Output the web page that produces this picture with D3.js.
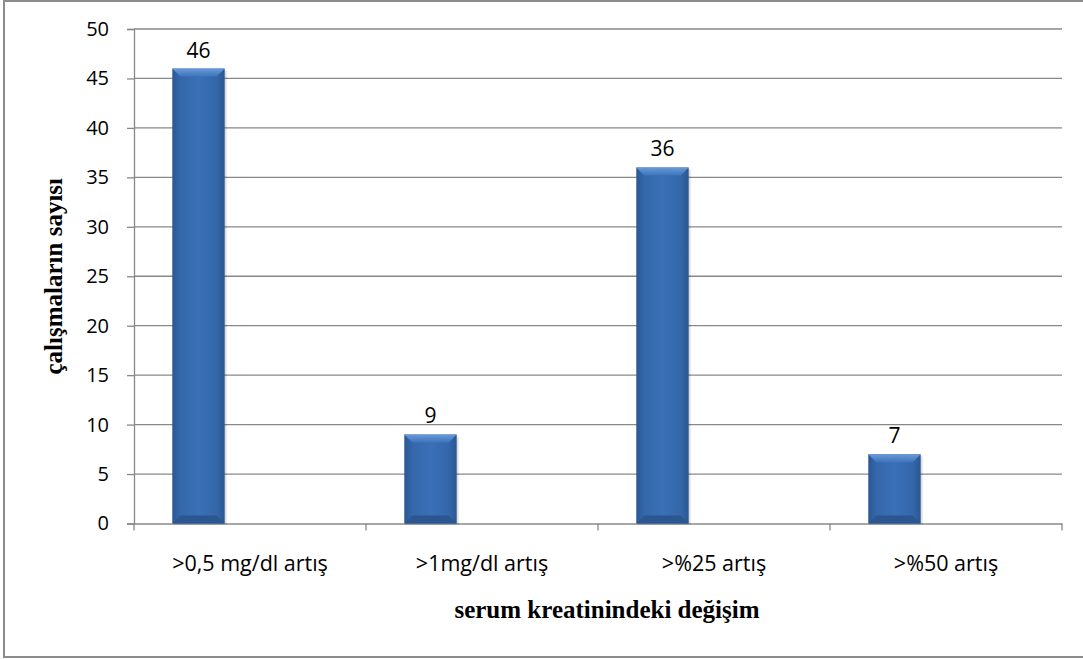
<!DOCTYPE html>
<html>
<head>
<meta charset="utf-8">
<script src="https://cdn.jsdelivr.net/npm/d3@7"></script>
<style>
  body { margin: 0; background: #fff; }
  svg text { fill: #000; }
</style>
</head>
<body>
<div id="chart"></div>
<script>
// data
var categories = [">0,5 mg/dl artış", ">1mg/dl artış", ">%25 artış", ">%50 artış"];
var values = [46, 9, 36, 7];
var yTicks = [0, 5, 10, 15, 20, 25, 30, 35, 40, 45, 50];
var yTitle = "çalışmaların sayısı";
var xTitle = "serum kreatinindeki değişim";

var W = 1083, H = 659;
var plotLeft = 134, plotRight = 1062, plotTop = 29, plotBottom = 523.5;

var svg = d3.select("#chart").append("svg")
    .attr("width", W)
    .attr("height", H);

var defs = svg.append("defs");
var side = defs.append("linearGradient").attr("id", "barSide")
    .attr("x1", "0").attr("x2", "1").attr("y1", "0").attr("y2", "0");
side.append("stop").attr("offset", "0").attr("stop-color", "#2a5793");
side.append("stop").attr("offset", "0.15").attr("stop-color", "#3467aa");
side.append("stop").attr("offset", "0.5").attr("stop-color", "#3a70b6");
side.append("stop").attr("offset", "0.85").attr("stop-color", "#3467aa");
side.append("stop").attr("offset", "1").attr("stop-color", "#2a5793");

var topG = defs.append("linearGradient").attr("id", "barTop")
    .attr("x1", "0").attr("x2", "0").attr("y1", "0").attr("y2", "1");
topG.append("stop").attr("offset", "0").attr("stop-color", "#6a9ad8");
topG.append("stop").attr("offset", "1").attr("stop-color", "#3d74bb");

// outer frame
svg.append("rect")
    .attr("x", 4).attr("y", 1)
    .attr("width", W + 10).attr("height", 656)
    .attr("fill", "none")
    .attr("stroke", "#8c8c8c")
    .attr("stroke-width", 2);

var x = d3.scaleBand().domain(categories).range([plotLeft, plotRight]);
var y = d3.scaleLinear().domain([0, 50]).range([plotBottom, plotTop]);

// gridlines
svg.append("g")
    .selectAll("line")
    .data(yTicks.slice(1))
    .join("line")
    .attr("x1", plotLeft).attr("x2", plotRight)
    .attr("y1", function(d) { return y(d); })
    .attr("y2", function(d) { return y(d); })
    .attr("stroke", "#888")
    .attr("stroke-width", 1.3);

// y axis
var yAxis = svg.append("g")
    .attr("transform", "translate(" + plotLeft + ",0)")
    .call(d3.axisLeft(y).tickValues(yTicks).tickSize(7).tickPadding(18));
yAxis.select(".domain").attr("stroke", "#888").attr("stroke-width", 1.3);
yAxis.selectAll(".tick line").attr("stroke", "#888").attr("stroke-width", 1.3);
yAxis.selectAll(".tick text")
    .attr("font-family", "'Open Sans', sans-serif")
    .attr("font-size", "20px")
    .attr("fill", "#000");

// x axis
var xAxis = svg.append("g")
    .attr("transform", "translate(0," + plotBottom + ")")
    .call(d3.axisBottom(x).tickSize(0).tickPadding(32));
xAxis.select(".domain").attr("stroke", "#888").attr("stroke-width", 1.3);
xAxis.selectAll(".tick text")
    .attr("font-family", "'Open Sans', sans-serif")
    .attr("font-size", "21.5px")
    .attr("fill", "#000");
// category boundary ticks
svg.append("g")
    .selectAll("line")
    .data(categories.concat(["end"]))
    .join("line")
    .attr("x1", function(d, i) { return plotLeft + i * x.bandwidth(); })
    .attr("x2", function(d, i) { return plotLeft + i * x.bandwidth(); })
    .attr("y1", plotBottom).attr("y2", plotBottom + 7)
    .attr("stroke", "#888")
    .attr("stroke-width", 1.3);

// bars
var bw = x.bandwidth() * 0.226;
var off = x.bandwidth() * 0.165;
var bev = 8;
var bars = svg.append("g").selectAll("g")
    .data(values)
    .join("g")
    .attr("transform", function(d, i) { return "translate(" + (x(categories[i]) + off) + ",0)"; });

// soft shadow
bars.append("rect")
    .attr("x", 2).attr("y", function(d) { return y(d) + 2; })
    .attr("width", bw).attr("height", function(d) { return plotBottom - y(d) - 1; })
    .attr("fill", "#000").attr("opacity", 0.12);

bars.append("rect")
    .attr("x", 0).attr("y", function(d) { return y(d); })
    .attr("width", bw).attr("height", function(d) { return plotBottom - y(d); })
    .attr("fill", "url(#barSide)");

bars.append("path")
    .attr("d", function(d) {
        var t = y(d);
        return "M0," + t + "L" + bw + "," + t + "L" + (bw - bev) + "," + (t + bev) + "L" + bev + "," + (t + bev) + "Z";
    })
    .attr("fill", "url(#barTop)");

bars.append("path")
    .attr("d", function(d) {
        var b = plotBottom;
        return "M0," + b + "L" + bw + "," + b + "L" + (bw - bev) + "," + (b - bev) + "L" + bev + "," + (b - bev) + "Z";
    })
    .attr("fill", "#2b5690");

// value labels
bars.append("text")
    .attr("x", bw / 2)
    .attr("y", function(d) { return y(d) - 11; })
    .attr("text-anchor", "middle")
    .attr("font-family", "'Open Sans', sans-serif")
    .attr("font-size", "21px")
    .text(function(d) { return d; });

// axis titles
svg.append("text")
    .attr("transform", "translate(62," + ((plotTop + plotBottom) / 2) + ") rotate(-90)")
    .attr("text-anchor", "middle")
    .attr("font-family", "'Liberation Serif', 'Times New Roman', serif")
    .attr("font-weight", "bold")
    .attr("font-size", "25px")
    .text(yTitle);

svg.append("text")
    .attr("x", 607)
    .attr("y", 618)
    .attr("text-anchor", "middle")
    .attr("font-family", "'Liberation Serif', 'Times New Roman', serif")
    .attr("font-weight", "bold")
    .attr("font-size", "25px")
    .text(xTitle);
</script>
</body>
</html>
